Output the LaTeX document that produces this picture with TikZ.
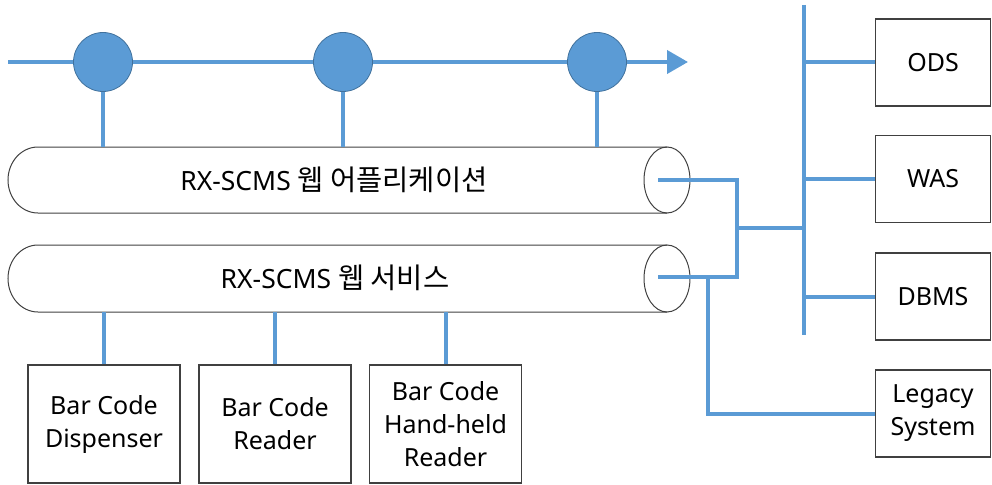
\documentclass[tikz,border=0pt]{standalone}
\usepackage{fontspec}
\setmainfont{Noto Sans}
\newfontfamily\krfont{Noto Sans CJK KR}
\usetikzlibrary{arrows.meta}
\definecolor{lineblue}{HTML}{5B9BD5}
\definecolor{darkblue}{HTML}{41719C}
\definecolor{edgegray}{HTML}{404040}
\begin{document}
\begin{tikzpicture}[x=1pt,y=-1pt,
  bus/.style={draw=lineblue, line width=4pt},
  hub/.style={circle, fill=lineblue, draw=darkblue, line width=0.8pt, minimum size=59pt, inner sep=0pt},
  sysbox/.style={draw=edgegray, line width=1.2pt, fill=white, align=center, inner sep=0pt,
                 font=\fontsize{25}{33}\selectfont},
  sidebox/.style={sysbox, minimum width=115pt, minimum height=87pt},
  devbox/.style={sysbox, minimum width=152pt, minimum height=118pt},
  cyl/.style={draw=edgegray, line width=1pt},
  lbl/.style={inner sep=0pt, font=\fontsize{26.5}{33}\selectfont}]
\useasboundingbox (0,0) rectangle (992,484);

% ---- cylinders
\draw[cyl] (38,147) -- (667,147) (38,213) -- (667,213)
  (38,147) .. controls (21.4,147) and (8,161.8) .. (8,180)
           .. controls (8,198.2) and (21.4,213) .. (38,213);
\draw[cyl] (667,180) ellipse [x radius=23, y radius=33];
\draw[cyl] (38,245) -- (667,245) (38,312) -- (667,312)
  (38,245) .. controls (21.4,245) and (8,260) .. (8,278.5)
           .. controls (8,297) and (21.4,312) .. (38,312);
\draw[cyl] (667,278.5) ellipse [x radius=23, y radius=33.5];

\node[lbl] (app) at (334,180) {RX-SCMS {\krfont\fontsize{28.5}{33}\selectfont 웹 어플리케이션}};
\node[lbl] (svc) at (335,278) {RX-SCMS {\krfont\fontsize{28.5}{33}\selectfont 웹 서비스}};
\coordinate (apptop) at (336,147);
\coordinate (svcbot) at (336,312);
\coordinate (appport) at (658,180);
\coordinate (svcport) at (658,277);
\coordinate (jx) at (737,228);
\coordinate (lg) at (708,277);

% ---- top flow line with hubs
\coordinate (flowstart) at (8,62);
\coordinate (flowend) at (688,62);
\draw[bus, -{Triangle[length=21pt 0, width=23pt 0]}] (flowstart) -- (flowend);
\node[hub] (h1) at (103,62) {};
\node[hub] (h2) at (343,62) {};
\node[hub] (h3) at (597,62) {};
\foreach \h in {h1,h2,h3} \draw[bus] (\h.south) -- (\h.south |- apptop);

% ---- right side systems
\coordinate (bustop) at (804,5);
\coordinate (busbot) at (804,335);
\draw[bus] (bustop) -- (busbot);
\node[sidebox] (ods) at (933,62.5) {ODS};
\node[sidebox] (was) at (933,179) {WAS};
\node[sidebox] (dbms) at (933,296.5) {DBMS};
\node[sidebox] (legacy) at (933,413.5) {Legacy\\System};
\foreach \b in {ods,was,dbms} \draw[bus] (\b.west -| bustop) -- (\b.west);

\draw[bus, line join=miter] (appport) -| (jx) |- (svcport);
\draw[bus] (jx) -- (jx -| bustop);
\draw[bus, line join=miter] (lg) |- (legacy.west);

% ---- devices
\node[devbox] (disp) at (104,424) {Bar Code\\Dispenser};
\node[devbox] (rdr) at (275,424) {Bar Code\\Reader};
\node[devbox] (hand) at (445.5,424) {Bar Code\\Hand-held\\Reader};
\foreach \d in {disp,rdr,hand} \draw[bus] (\d.north) -- (\d.north |- svcbot);
\end{tikzpicture}
\end{document}
